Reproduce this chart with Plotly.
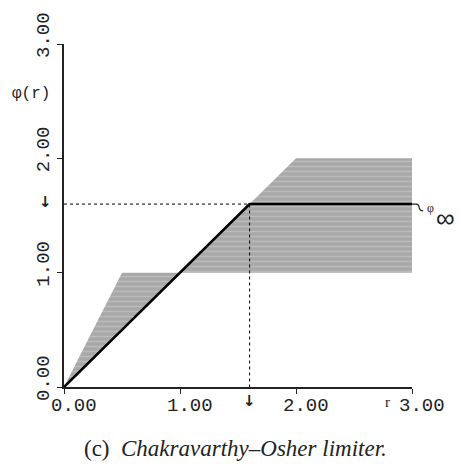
import plotly.graph_objects as go

# ---- data ----
psi = 1.6  # phi_infinity
limiter_r = [0.0, 1.6, 3.0]
limiter_phi = [0.0, 1.6, 1.6]
upper_r = [0.0, 0.5, 1.0, 2.0, 3.0]
upper_phi = [0.0, 1.0, 1.0, 2.0, 2.0]
lower_r = [0.0, 1.0, 3.0]
lower_phi = [0.0, 1.0, 1.0]
tick_vals = [0.0, 1.0, 2.0, 3.0]
tick_text = ["0.00", "1.00", "2.00", "3.00"]
caption = "(c)  <i>Chakravarthy–Osher limiter.</i>"

poly_x = upper_r + lower_r[::-1]
poly_y = upper_phi + lower_phi[::-1]

MONO = "Liberation Mono"
SERIF = "Liberation Serif"
INK = "#222"
X_MAX = tick_vals[-1]
Y_MAX = tick_vals[-1]

fig = go.Figure()
fig.add_trace(go.Scatter(
    x=poly_x, y=poly_y, mode="lines", fill="toself",
    line=dict(width=0, color="rgba(0,0,0,0)"),
    fillcolor="rgb(170,170,170)",
    fillpattern=dict(shape="-", bgcolor="rgb(168,168,168)",
                     fgcolor="rgb(205,205,205)", size=5, solidity=0.3),
    hoverinfo="skip", showlegend=False))

# dotted guide lines
fig.add_trace(go.Scatter(x=[0, psi, psi], y=[psi, psi, 0], mode="lines",
                         line=dict(color="black", width=1, dash="dot"),
                         showlegend=False, hoverinfo="skip"))

fig.add_trace(go.Scatter(x=limiter_r, y=limiter_phi, mode="lines",
                         line=dict(color="black", width=2.6),
                         showlegend=False))

# small connector to phi_inf label (paper coords so it is not clipped)
px0 = limiter_r[-1] / X_MAX
py0 = limiter_phi[-1] / Y_MAX
fig.add_shape(type="path", xref="paper", yref="paper",
              path=(f"M {px0},{py0} L {px0+0.012},{py0} "
                    f"Q {px0+0.02},{py0} {px0+0.021},{py0-0.012} "
                    f"Q {px0+0.023},{py0-0.02} {px0+0.032},{py0-0.02}"),
              line=dict(color=INK, width=1.2))

ann = []
for v, t in zip(tick_vals, tick_text):
    ann.append(dict(x=v, y=0, xref="x", yref="paper", text=t, showarrow=False,
                    xanchor="center", yanchor="top", xshift=10, yshift=-6,
                    font=dict(family=MONO, size=19, color=INK)))
    ann.append(dict(x=0, y=v, xref="paper", yref="y", text=t, showarrow=False,
                    xanchor="right", yanchor="middle", textangle=-90,
                    xshift=-7, yshift=9,
                    font=dict(family=MONO, size=19, color=INK)))

ann += [
    dict(x=0, y=1, xref="paper", yref="paper", text="φ(r)", showarrow=False,
         xanchor="center", yanchor="middle", xshift=-33, yshift=-50,
         font=dict(family=MONO, size=16, color=INK)),
    dict(x=X_MAX, y=0, xref="x", yref="paper", text="r", showarrow=False,
         xanchor="center", yanchor="top", xshift=-25, yshift=-5,
         font=dict(family=SERIF, size=15, color=INK)),
    dict(x=0, y=psi, xref="paper", yref="y", text="<b>↓</b>", showarrow=False,
         xanchor="center", yanchor="middle", xshift=-19, yshift=2,
         font=dict(family="DejaVu Sans", size=15, color=INK)),
    dict(x=psi, y=0, xref="x", yref="paper", text="<b>↓</b>", showarrow=False,
         xanchor="center", yanchor="middle", xshift=0, yshift=-14,
         font=dict(family="DejaVu Sans", size=15, color=INK)),
    dict(x=X_MAX, y=psi, xref="x", yref="y", text="φ", showarrow=False,
         xanchor="center", yanchor="middle", xshift=18, yshift=-4,
         font=dict(family=SERIF, size=12, color=INK)),
    dict(x=X_MAX, y=psi, xref="x", yref="y", text="∞", showarrow=False,
         xanchor="center", yanchor="middle", xshift=33, yshift=-14,
         font=dict(family="Liberation Sans", size=26, color=INK)),
    dict(x=0.5, y=0, xref="paper", yref="paper", text=caption, showarrow=False,
         xanchor="center", yanchor="top", xshift=-3, yshift=-47,
         font=dict(family=SERIF, size=23, color=INK)),
]

axis_common = dict(range=[0, X_MAX], tickvals=tick_vals, showticklabels=False,
                   ticks="outside", ticklen=5, tickwidth=1.3, tickcolor=INK,
                   showline=True, linecolor=INK, linewidth=1.5,
                   showgrid=False, zeroline=False, fixedrange=True)

fig.update_layout(
    width=460, height=465,
    margin=dict(l=64, r=48, t=44, b=78),
    plot_bgcolor="white", paper_bgcolor="white",
    xaxis=axis_common, yaxis=axis_common,
    annotations=ann,
)

fig.write_html("out.html")
